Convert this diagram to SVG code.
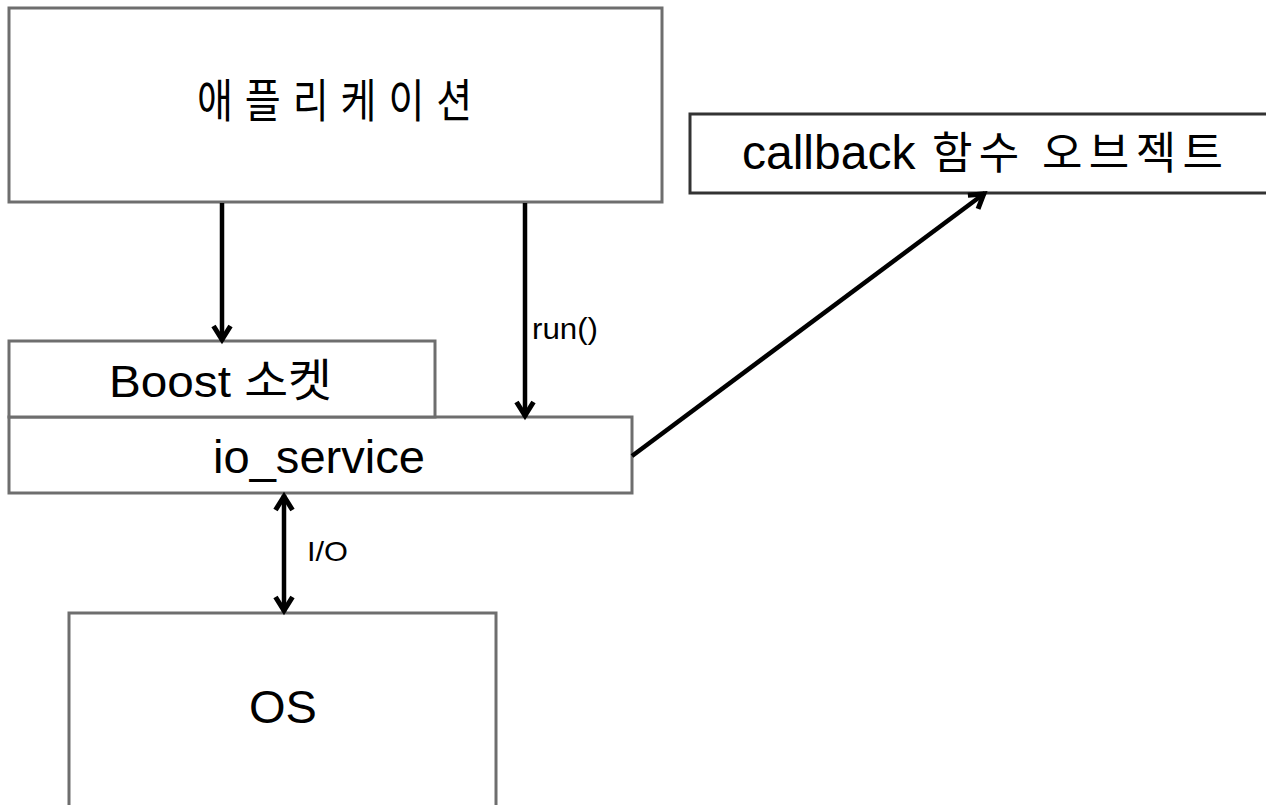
<svg xmlns="http://www.w3.org/2000/svg" width="1266" height="805" viewBox="0 0 1266 805">
<style>
.box{fill:#fff;stroke:#6e6e6e;stroke-width:3}
.lat{font-family:"Liberation Sans","Noto Sans CJK KR",sans-serif;fill:#000}
.kr{font-family:"Noto Sans CJK KR","Liberation Sans",sans-serif;fill:#000}
.conn{stroke:#000;stroke-width:4.5;fill:none}
</style>
<defs>
<marker id="ah" markerUnits="userSpaceOnUse" markerWidth="26" markerHeight="26" viewBox="-22 -13 26 26" refX="0" refY="0" orient="auto-start-reverse">
<path d="M-15,-8.5 L-1.5,0 L-15,8.5" fill="none" stroke="#000" stroke-width="5" stroke-linejoin="miter"/>
</marker>
</defs>
<g id="app">
<rect class="box" x="9" y="8" width="653" height="194"/>
<text class="kr" transform="translate(197,117) scale(0.85,1)" x="0" y="0" font-size="46" letter-spacing="14">애플리케이션</text>
</g>
<g id="callback">
<rect class="box" x="690" y="114" width="590" height="79" style="stroke:#333"/>
<text y="169"><tspan class="lat" x="742" font-size="48">callback</tspan><tspan class="kr" x="932" font-size="44" textLength="291" lengthAdjust="spacing">함수 오브젝트</tspan></text>
</g>
<g id="io_service">
<rect class="box" x="9" y="417" width="623" height="76"/>
<text class="lat" x="213" y="473" font-size="46" textLength="212" lengthAdjust="spacingAndGlyphs">io_service</text>
</g>
<g id="boost">
<rect class="box" x="9" y="341" width="426" height="76"/>
<text class="lat" x="109" y="397" font-size="45" textLength="223" lengthAdjust="spacingAndGlyphs">Boost 소켓</text>
</g>
<g id="os">
<rect class="box" x="69" y="613" width="427" height="200"/>
<text class="lat" x="283" y="723" font-size="47" text-anchor="middle">OS</text>
</g>
<g id="connectors">
<line class="conn" x1="222" y1="203" x2="222" y2="341" marker-end="url(#ah)"/>
<line class="conn" x1="525" y1="203" x2="525" y2="417" marker-end="url(#ah)"/>
<text class="lat" x="532" y="339" font-size="29" textLength="66" lengthAdjust="spacingAndGlyphs">run()</text>
<line class="conn" x1="284" y1="495" x2="284" y2="612" marker-start="url(#ah)" marker-end="url(#ah)"/>
<text class="lat" x="307" y="561" font-size="28" textLength="41" lengthAdjust="spacingAndGlyphs">I/O</text>
<line class="conn" x1="632" y1="456" x2="985" y2="193" marker-end="url(#ah)"/>
</g>
</svg>
